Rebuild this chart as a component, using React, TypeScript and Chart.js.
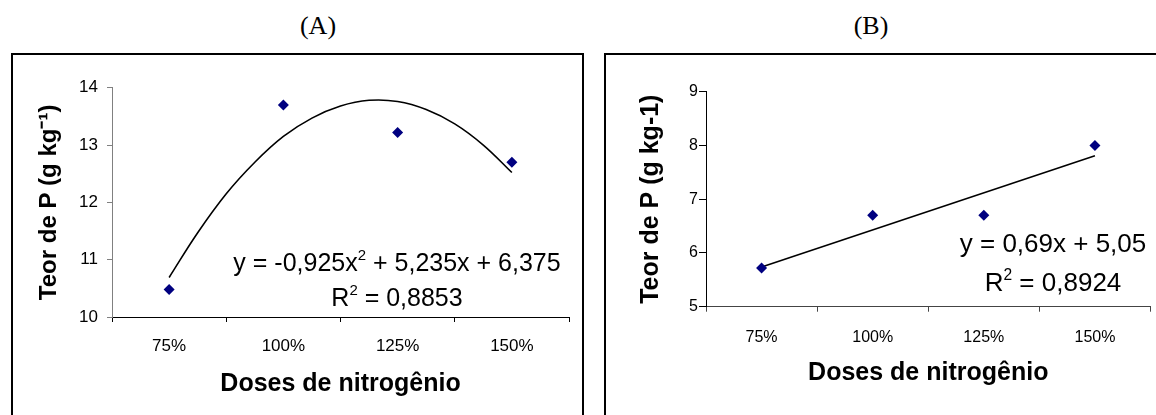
import React, { useEffect, useRef } from 'react';
import { Chart, registerables } from 'chart.js';

Chart.register(...registerables);

// ---------- data ----------
const categories = ['75%', '100%', '125%', '150%'];
const categoryPositions = [1, 2, 3, 4];

const teorA = [10.48, 13.7, 13.22, 12.7];
const teorB = [5.72, 6.7, 6.7, 8.0];

// fitted trend lines
const trendAX = [1, 1.25, 1.5, 1.75, 2, 2.25, 2.5, 2.75, 3, 3.25, 3.5, 3.75, 4];
const trendAY = [10.69, 11.47, 12.15, 12.7, 13.15, 13.47, 13.68, 13.78, 13.76, 13.62, 13.37, 13.0, 12.52];
const trendBX = [1, 4];
const trendBY = [5.74, 7.81];

const yTicksA = [10, 11, 12, 13, 14];
const yTicksB = [5, 6, 7, 8, 9];

const equationA1 = [{ t: 'y = -0,925x' }, { t: '2', sup: true }, { t: ' + 5,235x + 6,375' }];
const equationA2 = [{ t: 'R' }, { t: '2', sup: true }, { t: ' = 0,8853' }];
const equationB1 = [{ t: 'y = 0,69x + 5,05' }];
const equationB2 = [{ t: 'R' }, { t: '2', sup: true }, { t: ' = 0,8924' }];

const yTitleA = 'Teor de P (g kg\u207B\u00B9)';
const yTitleB = 'Teor de P (g kg-1)';
const xTitle = 'Doses de nitrogênio';

const FONT = '"Liberation Sans", Arial, Helvetica, sans-serif';

type Part = { t: string; sup?: boolean };

function drawRich(ctx: CanvasRenderingContext2D, parts: Part[], cx: number, cy: number, size: number) {
  const f = (s: number) => `${s}px ${FONT}`;
  const widths = parts.map((p) => {
    ctx.font = f(p.sup ? size * 0.6 : size);
    return ctx.measureText(p.t).width;
  });
  const total = widths.reduce((a, b) => a + b, 0);
  let x = cx - total / 2;
  const baseline = cy + size * 0.35;
  ctx.save();
  ctx.fillStyle = '#000';
  ctx.textBaseline = 'alphabetic';
  ctx.textAlign = 'left';
  parts.forEach((p, i) => {
    ctx.font = f(p.sup ? size * 0.6 : size);
    ctx.fillText(p.t, x, p.sup ? baseline - size * 0.42 : baseline);
    x += widths[i];
  });
  ctx.restore();
}

type PanelSpec = {
  values: number[];
  trendX: number[];
  trendY: number[];
  yTicks: number[];
  yTitle: string;
  yTitleSize: number;
  yTitlePad: number;
  xTitlePad: number;
  yAxisWidth: number;
  xAxisHeight: number;
  padTop: number;
  padRight: number;
  yColor: string;
  xColor: string;
  yTickLen: number;
  yTickPad: number;
  yTickSize: number;
  xTickPad: number;
  xTickSize: number;
  eq1: Part[];
  eq2: Part[];
  eqX: number;
  eq1Y: number;
  eq2Y: number;
  eqSize: number;
  tension: number;
};

function buildConfig(s: PanelSpec): any {
  const eqPlugin = {
    id: 'equations',
    afterDraw(chart: any) {
      const ctx = chart.ctx as CanvasRenderingContext2D;
      drawRich(ctx, s.eq1, s.eqX, s.eq1Y, s.eqSize);
      drawRich(ctx, s.eq2, s.eqX, s.eq2Y, s.eqSize);
    },
  };
  return {
    type: 'scatter',
    data: {
      datasets: [
        {
          label: 'Teor de P',
          data: categoryPositions.map((x, i) => ({ x, y: s.values[i] })),
          xAxisID: 'xd',
          yAxisID: 'y',
          pointStyle: 'rectRot',
          pointRadius: 5.5,
          pointBackgroundColor: '#000080',
          pointBorderColor: '#000080',
          pointBorderWidth: 0,
          showLine: false,
        },
        {
          label: 'Tendência',
          data: s.trendX.map((x, i) => ({ x, y: s.trendY[i] })),
          xAxisID: 'xd',
          yAxisID: 'y',
          showLine: true,
          borderColor: '#000',
          borderWidth: 1.6,
          pointRadius: 0,
          tension: s.tension,
          fill: false,
        },
      ],
    },
    options: {
      animation: false,
      responsive: false,
      devicePixelRatio: 1,
      events: [],
      layout: { padding: { top: s.padTop, right: s.padRight, left: 0, bottom: 0 } },
      plugins: { legend: { display: false }, tooltip: { enabled: false } },
      scales: {
        x: {
          type: 'category',
          labels: categories,
          offset: true,
          position: 'bottom',
          grid: {
            offset: true,
            drawOnChartArea: false,
            drawTicks: true,
            tickLength: 5,
            color: s.xColor,
          },
          border: { display: true, color: s.xColor, width: 1 },
          ticks: {
            color: '#000',
            font: { family: FONT, size: s.xTickSize },
            padding: s.xTickPad,
            maxRotation: 0,
            autoSkip: false,
          },
          title: {
            display: true,
            text: xTitle,
            color: '#000',
            font: { family: FONT, size: 25, weight: 'bold' },
            padding: { top: 0, bottom: s.xTitlePad },
          },
          afterFit: (scale: any) => {
            scale.height = s.xAxisHeight;
          },
        },
        xd: {
          type: 'linear',
          display: false,
          min: 0.5,
          max: 4.5,
        },
        y: {
          type: 'linear',
          position: 'left',
          min: s.yTicks[0],
          max: s.yTicks[s.yTicks.length - 1],
          afterBuildTicks: (scale: any) => {
            scale.ticks = s.yTicks.map((v) => ({ value: v }));
          },
          grid: {
            drawOnChartArea: false,
            drawTicks: true,
            tickLength: s.yTickLen,
            color: s.yColor,
          },
          border: { display: true, color: s.yColor, width: 1 },
          ticks: {
            color: '#000',
            font: { family: FONT, size: s.yTickSize },
            padding: s.yTickPad,
          },
          title: {
            display: true,
            text: s.yTitle,
            color: '#000',
            font: { family: FONT, size: s.yTitleSize, weight: 'bold' },
            padding: { top: s.yTitlePad, bottom: 0 },
          },
          afterFit: (scale: any) => {
            scale.width = s.yAxisWidth;
          },
        },
      },
    },
    plugins: [eqPlugin],
  };
}

const specA: PanelSpec = {
  values: teorA,
  trendX: trendAX,
  trendY: trendAY,
  yTicks: yTicksA,
  yTitle: yTitleA,
  yTitleSize: 24,
  yTitlePad: 22,
  xTitlePad: 16,
  yAxisWidth: 99,
  xAxisHeight: 98,
  padTop: 31.7,
  padRight: 12,
  yColor: '#808080',
  xColor: '#000000',
  yTickLen: 5,
  yTickPad: 9,
  yTickSize: 17,
  xTickPad: 14,
  xTickSize: 17,
  eq1: equationA1,
  eq2: equationA2,
  eqX: 384,
  eq1Y: 206,
  eq2Y: 241,
  eqSize: 25,
  tension: 0.4,
};

const specB: PanelSpec = {
  values: teorB,
  trendX: trendBX,
  trendY: trendBY,
  yTicks: yTicksB,
  yTitle: yTitleB,
  yTitleSize: 25,
  yTitlePad: 29,
  xTitlePad: 27,
  yAxisWidth: 99,
  xAxisHeight: 108.3,
  padTop: 35.7,
  padRight: 4,
  yColor: '#000000',
  xColor: '#444444',
  yTickLen: 7,
  yTickPad: 1,
  yTickSize: 16,
  xTickPad: 16,
  xTickSize: 16,
  eq1: equationB1,
  eq2: equationB2,
  eqX: 446,
  eq1Y: 187,
  eq2Y: 226,
  eqSize: 26,
  tension: 0,
};

function Panel({ spec, left, top, width, height }: { spec: PanelSpec; left: number; top: number; width: number; height: number }) {
  const ref = useRef<HTMLCanvasElement | null>(null);
  useEffect(() => {
    if (!ref.current) return;
    const chart = new Chart(ref.current, buildConfig(spec));
    return () => chart.destroy();
  }, [spec]);
  return (
    <div style={{ position: 'absolute', left, top, width, height }}>
      <canvas ref={ref} width={width} height={height} style={{ width, height, display: 'block' }} />
    </div>
  );
}

export default function App() {
  return (
    <div
      style={{
        position: 'absolute',
        left: 0,
        top: 0,
        width: 1156,
        height: 415,
        overflow: 'hidden',
        background: '#fff',
      }}
    >
      <div
        style={{
          position: 'absolute',
          left: 268,
          top: 11,
          width: 100,
          textAlign: 'center',
          font: '26px "Liberation Serif", "Times New Roman", serif',
          lineHeight: '30px',
          color: '#000',
        }}
      >
        (A)
      </div>
      <div
        style={{
          position: 'absolute',
          left: 821,
          top: 11,
          width: 100,
          textAlign: 'center',
          font: '26px "Liberation Serif", "Times New Roman", serif',
          lineHeight: '30px',
          color: '#000',
        }}
      >
        (B)
      </div>
      <div
        style={{
          position: 'absolute',
          left: 11,
          top: 53,
          width: 573,
          height: 420,
          border: '2px solid #000',
          boxSizing: 'border-box',
        }}
      />
      <div
        style={{
          position: 'absolute',
          left: 604,
          top: 53,
          width: 620,
          height: 420,
          border: '2px solid #000',
          boxSizing: 'border-box',
        }}
      />
      <Panel spec={specA} left={13} top={56} width={568} height={359} />
      <Panel spec={specB} left={607} top={56} width={549} height={359} />
    </div>
  );
}
